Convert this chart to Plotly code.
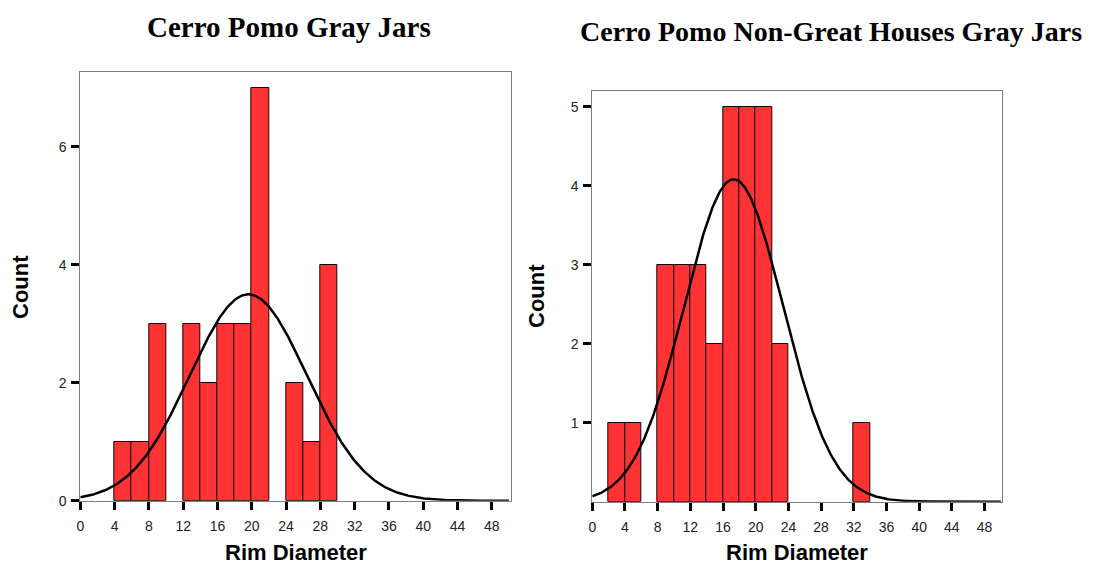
import numpy as np
import plotly.graph_objects as go

# ---- data: 2-unit rim-diameter bins (left edge) and jar counts ----
all_bin_starts = [4, 6, 8, 12, 14, 16, 18, 20, 24, 26, 28]
all_counts = [1, 1, 3, 3, 2, 3, 3, 7, 2, 1, 4]

ngh_bin_starts = [2, 4, 8, 10, 12, 14, 16, 18, 20, 22, 32]
ngh_counts = [1, 1, 3, 3, 3, 2, 5, 5, 5, 2, 1]

BIN_WIDTH = 2

# fitted normal curve parameters (mean, std dev)
all_mean, all_sd = 19.6, 6.84
ngh_mean, ngh_sd = 17.3, 6.06

x_ticks = [0, 4, 8, 12, 16, 20, 24, 28, 32, 36, 40, 44, 48]
all_y_ticks = [0, 2, 4, 6]
ngh_y_ticks = [1, 2, 3, 4, 5]

titles = ["Cerro Pomo Gray Jars", "Cerro Pomo Non-Great Houses Gray Jars"]
x_title = "Rim Diameter"
y_title = "Count"

BAR_RED = "#FF3333"
W, H = 1112, 565


def normal_curve(n, mean, sd, xs):
    scale = n * BIN_WIDTH / (sd * np.sqrt(2 * np.pi))
    return scale * np.exp(-((xs - mean) ** 2) / (2 * sd ** 2))


fig = go.Figure()

panels = [
    dict(starts=all_bin_starts, counts=all_counts, mean=all_mean, sd=all_sd,
         xa="x", ya="y"),
    dict(starts=ngh_bin_starts, counts=ngh_counts, mean=ngh_mean, sd=ngh_sd,
         xa="x2", ya="y2"),
]

xs = np.linspace(0, 50, 400)
for p in panels:
    mids = [s + BIN_WIDTH / 2 for s in p["starts"]]
    fig.add_trace(go.Bar(
        x=mids, y=p["counts"], width=BIN_WIDTH,
        marker=dict(color=BAR_RED, line=dict(color="#1a0000", width=1)),
        xaxis=p["xa"], yaxis=p["ya"], showlegend=False, hoverinfo="x+y",
    ))
    fig.add_trace(go.Scatter(
        x=xs, y=normal_curve(sum(p["counts"]), p["mean"], p["sd"], xs),
        mode="lines", line=dict(color="black", width=2.5),
        xaxis=p["xa"], yaxis=p["ya"], showlegend=False, hoverinfo="skip",
    ))

# plot rectangles in pixels: (left, right, top, bottom)
left_box = (80.3, 510.7, 72.0, 500.7)
right_box = (592.3, 1001.7, 91.0, 501.7)


def xdom(b):
    return [b[0] / W, b[1] / W]


def ydom(b):
    return [1 - b[3] / H, 1 - b[2] / H]


tick_font = dict(family="Liberation Sans, Arial, sans-serif", size=14, color="#222")
axis_common = dict(
    showline=True, linecolor="#7f7f7f", linewidth=1, mirror=True,
    showgrid=False, zeroline=False, ticks="outside", tickcolor="black",
    tickwidth=3, ticklen=8, tickfont=tick_font, automargin=False,
)

fig.update_layout(
    width=W, height=H,
    margin=dict(l=0, r=0, t=0, b=0, autoexpand=False),
    paper_bgcolor="white", plot_bgcolor="white",
    bargap=0,
    xaxis=dict(domain=xdom(left_box), range=[0, 50.2], tickvals=x_ticks,
               anchor="y", ticklabelstandoff=4, **axis_common),
    yaxis=dict(domain=ydom(left_box), range=[0, 7.27], tickvals=all_y_ticks,
               anchor="x", ticklabelstandoff=2, **axis_common),
    xaxis2=dict(domain=xdom(right_box), range=[0, 50.1], tickvals=x_ticks,
                anchor="y2", ticklabelstandoff=4, **axis_common),
    yaxis2=dict(domain=ydom(right_box), range=[0, 5.2], tickvals=ngh_y_ticks,
                anchor="x2", ticklabelstandoff=2, **axis_common),
)

title_font = dict(family="Liberation Serif, Times New Roman, serif", size=28,
                  color="black", weight="bold")
label_font = dict(family="Liberation Sans, Arial, sans-serif", size=22,
                  color="black", weight="bold")

annotations = []
# chart titles (pixel centre x, y)
for (tx, ty, sz), t in zip([(289, 27, 29), (831, 31, 28)], titles):
    annotations.append(dict(text=t, x=tx / W, y=1 - ty / H,
                            xref="paper", yref="paper", showarrow=False,
                            font={**title_font, "size": sz},
                            xanchor="center", yanchor="middle"))
for box in (left_box, right_box):
    cx = (box[0] + box[1]) / 2 / W
    annotations.append(dict(text=x_title, x=cx, y=1 - 552 / H,
                            xref="paper", yref="paper", showarrow=False,
                            font=label_font, xanchor="center", yanchor="middle"))

annotations.append(dict(text=y_title, x=20 / W, y=1 - 287 / H, textangle=-90,
                        xref="paper", yref="paper", showarrow=False,
                        font=label_font, xanchor="center", yanchor="middle"))
annotations.append(dict(text=y_title, x=536 / W, y=1 - 296 / H, textangle=-90,
                        xref="paper", yref="paper", showarrow=False,
                        font=label_font, xanchor="center", yanchor="middle"))

fig.update_layout(annotations=annotations)

fig.write_html("out.html")
